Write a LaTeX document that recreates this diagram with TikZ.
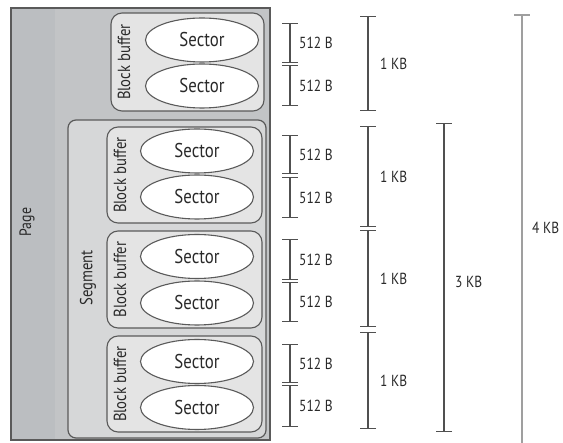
\documentclass[tikz,border=0pt]{standalone}
\usepackage{fontspec}
\setmainfont{PT Sans}
\usetikzlibrary{shapes.geometric,arrows.meta}
\definecolor{pagefill}{HTML}{C2C4C6}
\definecolor{pageleft}{HTML}{BBBEC1}
\definecolor{segfill}{HTML}{D6D7D8}
\definecolor{bbfill}{HTML}{E4E4E4}
\definecolor{edge}{HTML}{5A5A5A}
\definecolor{ink}{HTML}{2A2A2A}
\definecolor{dim}{HTML}{505050}
\newcommand\cnd[1]{\scalebox{0.84}[1]{#1}}
\begin{document}
\begin{tikzpicture}[x=1pt,y=-1pt,
  pagebox/.style={draw=edge, line width=1.6pt, inner sep=0pt, fill=pagefill},
  segbox/.style={draw=edge, line width=1.2pt, rounded corners=8pt, fill=segfill, inner sep=0pt},
  bbbox/.style={draw=edge, line width=1.1pt, rounded corners=11pt, fill=bbfill, inner sep=0pt},
  sector/.style={ellipse, draw=edge, line width=1.1pt, fill=white, inner sep=0pt,
    minimum width=113pt, minimum height=44pt, font=\fontsize{20}{20}\selectfont, text=ink},
  lbl/.style={text=ink, inner sep=0pt, font=\fontsize{17.5}{17.5}\selectfont, rotate=90},
  dimlbl/.style={text=ink, inner sep=0pt, anchor=west, font=\fontsize{16}{16}\selectfont},
  brk/.style={draw=dim, line width=1.1pt, {Bar[width=16pt,length=1pt]}-{Bar[width=16pt,length=1pt]}},
  bigbrk/.style={draw=gray!75, line width=2.4pt, {Bar[width=16pt,length=1.5pt]}-}
]
\useasboundingbox (0,0) rectangle (563,443);
\fill[white] (0,0) rectangle (563,443);
% page
\node[pagebox, minimum width=259pt, minimum height=432pt] (page) at (140.5,224) {};
\fill[pageleft] (12,9) rectangle (55,439);
\draw[edge, line width=1.6pt] (11,8) rectangle (270,440);
\node[lbl, font=\fontsize{16.5}{16.5}\selectfont] (pagelbl) at (27,222) {\cnd{Page}};
% block buffer 1
\node[bbbox, minimum width=153pt, minimum height=98pt] (bb1) at (187.5,62) {};
\node[lbl] (bb1l) at (124,62) {\cnd{Block buffer}};
\node[sector] (s1) at (202,40) {\cnd{Sector}};
\node[sector] (s2) at (202,86) {\cnd{Sector}};
% segment
\node[segbox, minimum width=198pt, minimum height=318pt] (seg) at (167,279) {};
\node[lbl] (segl) at (88,278) {\cnd{Segment}};
\node[bbbox, minimum width=155pt, minimum height=96pt] (bb2) at (184.5,175) {};
\node[bbbox, minimum width=155pt, minimum height=97pt] (bb3) at (184.5,279.5) {};
\node[bbbox, minimum width=155pt, minimum height=96pt] (bb4) at (184.5,384) {};
\node[lbl] (bb2l) at (120,175) {\cnd{Block buffer}};
\node[lbl] (bb3l) at (120,279.5) {\cnd{Block buffer}};
\node[lbl] (bb4l) at (120,384) {\cnd{Block buffer}};
\node[sector] (s3) at (197,151) {\cnd{Sector}};
\node[sector] (s4) at (197,197) {\cnd{Sector}};
\node[sector] (s5) at (197,256.5) {\cnd{Sector}};
\node[sector] (s6) at (197,303) {\cnd{Sector}};
\node[sector] (s7) at (197,361.5) {\cnd{Sector}};
\node[sector] (s8) at (197,407.5) {\cnd{Sector}};
% 512 B brackets
\foreach \i/\a/\b in {1/23/63, 2/65/106, 3/135/174, 4/177/218, 5/239/280, 6/282/322, 7/344/383, 8/385/427}{
  \coordinate (b\i t) at (290,\a);
  \coordinate (b\i b) at (290,\b);
  \draw[brk] (b\i t) -- (b\i b);
  \node[dimlbl] (b\i l) at (299,{(\a+\b)/2}) {\cnd{512 B}};
}
% 1 KB brackets
\foreach \i/\a/\b in {1/16/111, 2/126/227, 3/230/327, 4/332/429}{
  \coordinate (k\i t) at (368,\a);
  \coordinate (k\i b) at (368,\b);
  \draw[brk] (k\i t) -- (k\i b);
  \node[dimlbl] (k\i l) at (380,{(\a+\b)/2}) {\cnd{1 KB}};
}
% 3 KB
\coordinate (t3t) at (444,123);
\coordinate (t3b) at (444,432);
\draw[brk] (t3t) -- (t3b);
\node[dimlbl] (t3l) at (455,282) {\cnd{3 KB}};
% 4 KB
\coordinate (t4t) at (522,14);
\coordinate (t4b) at (522,443);
\draw[bigbrk] (t4t) -- (t4b);
\node[dimlbl] (t4l) at (532,228) {\cnd{4 KB}};
\end{tikzpicture}
\end{document}
